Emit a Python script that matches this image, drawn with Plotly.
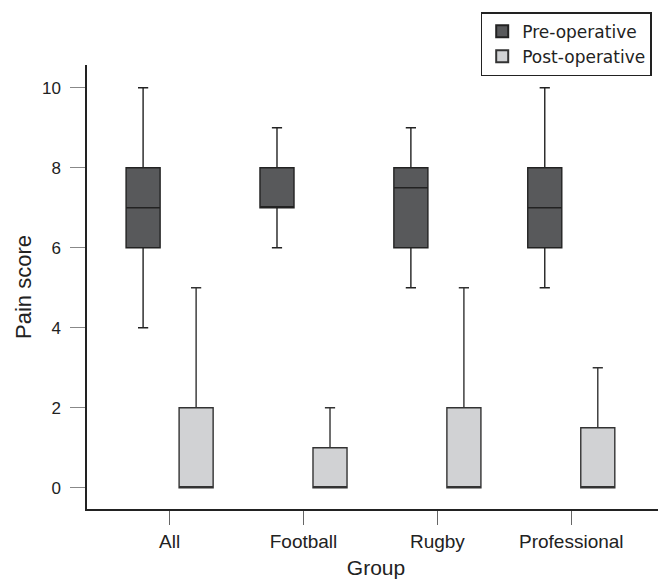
import plotly.graph_objects as go

groups = ["All", "Football", "Rugby", "Professional"]

pre_low = [4, 6, 5, 5]
pre_q1 = [6, 7, 6, 6]
pre_med = [7, 7, 7.5, 7]
pre_q3 = [8, 8, 8, 8]
pre_high = [10, 9, 9, 10]

post_low = [0, 0, 0, 0]
post_q1 = [0, 0, 0, 0]
post_med = [0, 0, 0, 0]
post_q3 = [2, 1, 2, 1.5]
post_high = [5, 2, 5, 3]

y_ticks = [0, 2, 4, 6, 8, 10]

FONT = "Liberation Sans, Arial, Helvetica, sans-serif"

fig = go.Figure()
fig.add_trace(go.Box(
    name="Pre-operative", x=groups,
    q1=pre_q1, median=pre_med, q3=pre_q3,
    lowerfence=pre_low, upperfence=pre_high,
    fillcolor="#58595b", line=dict(color="#222222", width=1.4),
    whiskerwidth=0.3, boxpoints=False, hoverinfo="skip",
    offsetgroup="pre",
))
fig.add_trace(go.Box(
    name="Post-operative", x=groups,
    q1=post_q1, median=post_med, q3=post_q3,
    lowerfence=post_low, upperfence=post_high,
    fillcolor="#d1d2d4", line=dict(color="#333333", width=1.4),
    whiskerwidth=0.3, boxpoints=False, hoverinfo="skip",
    offsetgroup="post",
))

# the page body adds an 8 px margin, so the figure is 8 px smaller
fig.update_layout(
    width=658, height=571,
    margin=dict(l=79, r=1, t=57, b=70),
    paper_bgcolor="white", plot_bgcolor="white",
    boxmode="group", boxgap=0.208, boxgroupgap=0.358,
    font=dict(family=FONT, color="#222222", size=17),
    showlegend=True,
    legend=dict(
        x=0.977, y=1.119, xanchor="right", yanchor="top",
        bgcolor="white", bordercolor="#222222", borderwidth=1.5,
        font=dict(size=17, color="#222222", family="DejaVu Sans, Liberation Sans, sans-serif"),
        tracegroupgap=0, itemsizing="constant",
    ),
    xaxis=dict(
        type="category", range=[-0.617, 3.70],
        showline=True, linecolor="#222222", linewidth=1.5,
        ticks="outside", ticklen=14, tickwidth=1.2, tickcolor="#666666",
        tickfont=dict(size=19, color="#222222"),
        showgrid=False, zeroline=False,
        title=dict(text="Group", font=dict(size=21, color="#222222"), standoff=10),
    ),
    yaxis=dict(
        range=[-0.53, 10.57], tickvals=y_ticks,
        showline=True, linecolor="#222222", linewidth=1.5,
        ticks="outside", ticklen=15, tickwidth=1.2, tickcolor="#888888",
        tickfont=dict(size=17, color="#222222"),
        ticklabelstandoff=6,
        showgrid=False, zeroline=False,
        title=dict(text="Pain score", font=dict(size=22, color="#222222"), standoff=4),
    ),
)

fig.write_html("out.html")
